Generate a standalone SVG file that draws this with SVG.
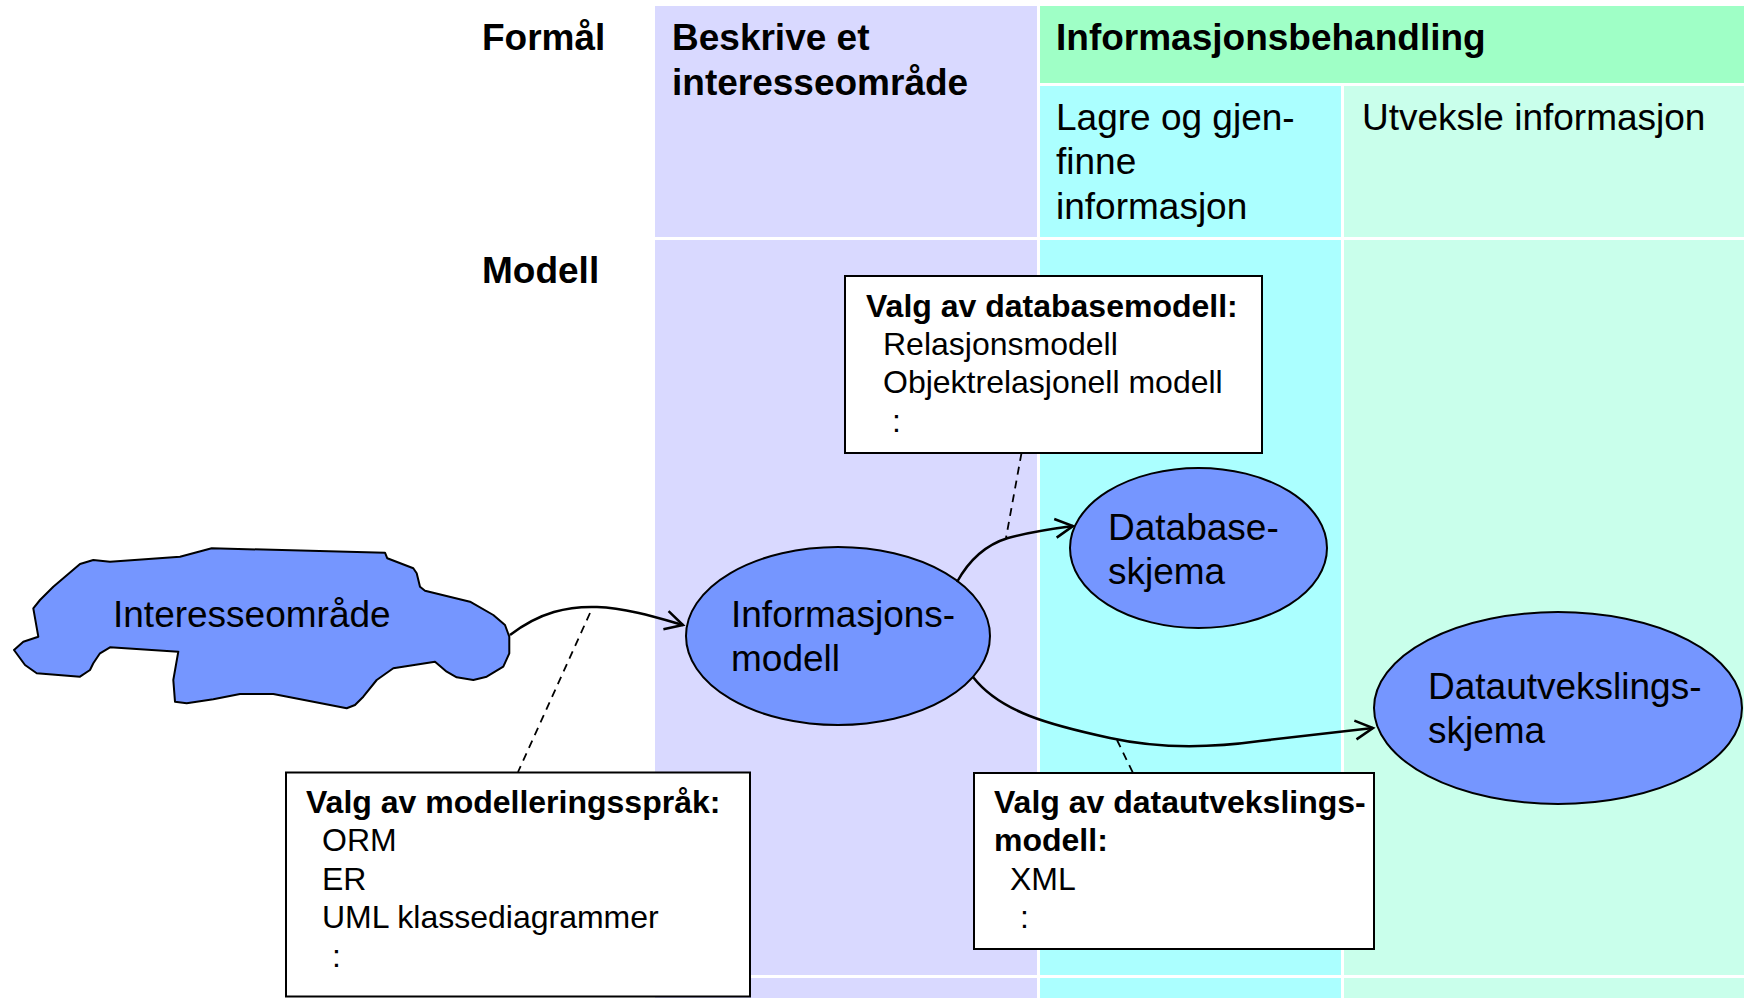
<svg xmlns="http://www.w3.org/2000/svg" width="1744" height="998" viewBox="0 0 1744 998">
<style>
text{font-family:"Liberation Sans",Arial,sans-serif;fill:#000}
.h{font-size:37px;font-weight:bold}
.t{font-size:37px}
.bb{font-size:32px;font-weight:bold}
.b{font-size:32px}
.ell{fill:#7596FF;stroke:#000;stroke-width:2}
.box{fill:#fff;stroke:#000;stroke-width:2}
.con{fill:none;stroke:#000;stroke-width:2.5}
.dash{fill:none;stroke:#000;stroke-width:1.8;stroke-dasharray:8 6}
</style>
<defs>
<marker id="arr" viewBox="-21 -12 24 24" refX="0" refY="0" markerWidth="24" markerHeight="24" markerUnits="userSpaceOnUse" orient="auto">
<path d="M-17.7,-9.4 L0,0 L-17.7,9.4" fill="none" stroke="#000" stroke-width="2.5"/>
</marker>
</defs>
<rect width="1744" height="998" fill="#fff"/>
<g id="background">
<rect x="655" y="6" width="382" height="231" fill="#D9D9FF"/>
<rect x="655" y="240" width="382" height="735" fill="#D9D9FF"/>
<rect x="655" y="978" width="382" height="20" fill="#D9D9FF"/>
<rect x="1040" y="6" width="704" height="77" fill="#9FFFC6"/>
<rect x="1040" y="86" width="301" height="151" fill="#ABFFFF"/>
<rect x="1040" y="240" width="301" height="735" fill="#ABFFFF"/>
<rect x="1040" y="978" width="301" height="20" fill="#ABFFFF"/>
<rect x="1344" y="86" width="400" height="151" fill="#C9FFEB"/>
<rect x="1344" y="240" width="400" height="735" fill="#C9FFEB"/>
<rect x="1344" y="978" width="400" height="20" fill="#C9FFEB"/>
</g>
<g id="labels">
<text class="h" x="482" y="50">Formål</text>
<text class="h" x="482" y="283">Modell</text>
<text class="h" x="672" y="50">Beskrive et</text>
<text class="h" x="672" y="94.5">interesseområde</text>
<text class="h" x="1056" y="50">Informasjonsbehandling</text>
<text class="t" x="1056" y="130">Lagre og gjen-</text>
<text class="t" x="1056" y="174.4">finne</text>
<text class="t" x="1056" y="218.8">informasjon</text>
<text class="t" x="1362" y="130">Utveksle informasjon</text>
</g>
<g id="interesseomrade">
<path class="ell" d="M211.7,548.3 L385,552.7 L387.3,558.3 L413.3,568.3 L416.7,573.3 L420,586.7 L425,590.7 L470,601.7 L493.3,615 L505,625 L509.3,636.7 L509.3,653.3 L503.3,666.7 L486.7,676.7 L473.3,680 L456.7,677.3 L446.7,671.7 L435,661.7 L393.3,668.3 L376.7,680 L363.3,696.7 L355,705 L346.7,708.3 L313.3,701.7 L273.3,694 L240,694 L213.3,699.3 L186.7,703.3 L175,701.7 L173.3,680 L178.3,651.7 L110,647.3 L100,653.3 L93.3,663.3 L90,670 L80,676.7 L36.7,673.3 L25,665 L14,650 L23.3,641.7 L38.3,636.7 L33.3,608.3 L40,600 L53.3,586.7 L80,564 L93.3,560 L110,561.7 L180,556.7 Z" stroke-linejoin="round"/>
<text class="t" x="113" y="627">Interesseområde</text>
</g>
<g id="informasjonsmodell">
<ellipse class="ell" cx="838" cy="636" rx="152" ry="89"/>
<text class="t" x="731" y="627">Informasjons-</text>
<text class="t" x="731" y="671">modell</text>
</g>
<g id="databaseskjema">
<ellipse class="ell" cx="1198.5" cy="548" rx="128.5" ry="80"/>
<text class="t" x="1108" y="540">Database-</text>
<text class="t" x="1108" y="584">skjema</text>
</g>
<g id="datautvekslingsskjema">
<ellipse class="ell" cx="1558" cy="708" rx="184" ry="96"/>
<text class="t" x="1428" y="699">Datautvekslings-</text>
<text class="t" x="1428" y="743">skjema</text>
</g>
<g id="valg-databasemodell">
<rect class="box" x="845" y="276" width="417" height="177"/>
<text class="bb" x="866" y="316.5">Valg av databasemodell:</text>
<text class="b" x="883" y="354.9">Relasjonsmodell</text>
<text class="b" x="883" y="393.3">Objektrelasjonell modell</text>
<text class="b" x="892" y="431.7">:</text>
</g>
<g id="valg-modelleringssprak">
<rect class="box" x="286" y="772.5" width="464" height="224"/>
<text class="bb" x="306" y="813">Valg av modelleringsspråk:</text>
<text class="b" x="322" y="851.4">ORM</text>
<text class="b" x="322" y="889.8">ER</text>
<text class="b" x="322" y="928.2">UML klassediagrammer</text>
<text class="b" x="332" y="966.6">:</text>
</g>
<g id="valg-datautvekslingsmodell">
<rect class="box" x="974" y="773" width="400" height="176"/>
<text class="bb" x="994" y="813">Valg av datautvekslings-</text>
<text class="bb" x="994" y="851.4">modell:</text>
<text class="b" x="1010" y="889.8">XML</text>
<text class="b" x="1020" y="928.2">:</text>
</g>
<g id="connectors">
<path class="con" d="M510,635 C540,612 568,606 597,607 C625,608 655,617 683,625" marker-end="url(#arr)"/>
<path class="con" d="M957,582 C968,562 985,545 1008,538 C1030,532 1050,529 1073,526" marker-end="url(#arr)"/>
<path class="con" d="M973,677 C1000,712 1050,725 1110,738 C1160,749 1210,748 1260,741 L1373,728" marker-end="url(#arr)"/>
<path class="dash" d="M590,613 L518,772"/>
<path class="dash" d="M1021.5,453 L1006,538"/>
<path class="dash" d="M1117,740 L1133,773"/>
</g>
</svg>
